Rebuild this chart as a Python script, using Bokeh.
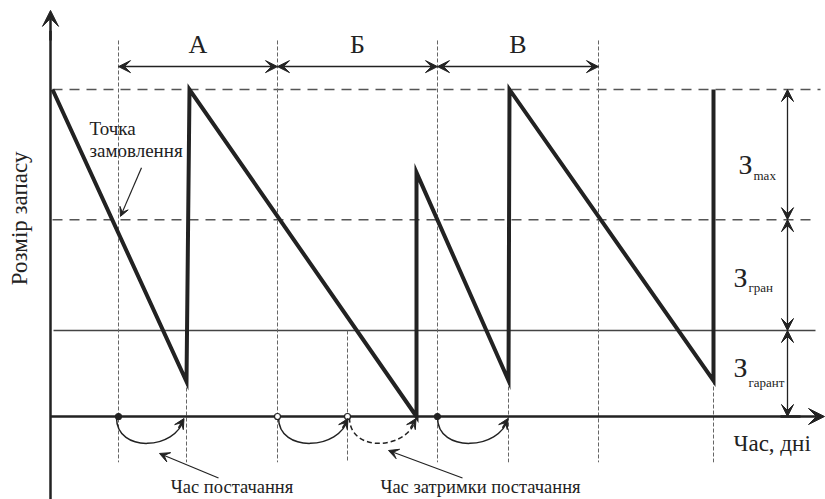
import math
from bokeh.plotting import figure
from bokeh.models import Range1d, Arrow, VeeHead, ColumnDataSource
from bokeh.core.properties import value
from bokeh.embed import file_html
from bokeh.resources import INLINE

# ---------------- data (time in days, stock in units) ----------------
max_stock = 100
reorder_level = 60.2
guarantee_level = 26.3

saw_t = [0.2, 13.6, 13.9, 36.6, 36.6, 45.8, 45.9, 66.3, 66.3]
saw_s = [100, 10.7, 100, 0, 74.6, 11, 100, 11, 100]

order_t = [6.8, 22.7, 38.7, 54.8]          # order points (А, Б, В bounds)
arrival_t = [13.6, 29.7, 45.8, 66.3]       # planned arrivals
arrival_s = [10.7, 26.3, 11, 11]

period_names = ["А", "Б", "В"]

lead_start = [6.6, 22.8, 29.9, 38.7]
lead_end = [13.3, 29.7, 36.5, 45.7]
lead_dash = ["solid", "solid", "dashed", "solid"]

zone_names = ["max", "гран", "гарант"]
zone_bounds = [max_stock, reorder_level, guarantee_level, 0]

marker_t = [6.8, 22.7, 29.7, 38.7]
marker_fill = ["#222222", "white", "white", "#222222"]

FONT = value("Liberation Serif")
INK = "#222222"
GREY = "#555555"

p = figure(width=825, height=499, x_range=Range1d(-5.0, 77.5), y_range=Range1d(-25.38, 127.22),
           output_backend="svg", toolbar_location=None, min_border=0)
p.axis.visible = False
p.grid.visible = False
p.outline_line_color = None
p.background_fill_color = "white"

# horizontal reference lines
p.line([0.2, 77], [max_stock, max_stock], line_color=GREY, line_width=1.5, line_dash="10 7")
p.line([0.2, 76], [reorder_level, reorder_level], line_color=GREY, line_width=1.5, line_dash="10 7")
p.line([0.3, 76.5], [guarantee_level, guarantee_level], line_color="#444444", line_width=1.3)

# vertical thin dashed lines
for t in order_t:
    p.line([t, t], [115, -14], line_color="#666666", line_width=1, line_dash="4 2")
for t, s in zip(arrival_t, arrival_s):
    p.line([t, t], [s, -14], line_color="#666666", line_width=1, line_dash="4 2")

# axes
p.line([0, 0], [-26, 118], line_color=INK, line_width=2.5)
p.add_layout(Arrow(end=VeeHead(size=16, fill_color=INK, line_color=INK), x_start=0, y_start=115,
                   x_end=0, y_end=124.2, line_color=INK, line_width=2.5))
p.line([0, 75], [0, 0], line_color=INK, line_width=2.5)
p.add_layout(Arrow(end=VeeHead(size=16, fill_color=INK, line_color=INK), x_start=73, y_start=0,
                   x_end=77.4, y_end=0, line_color=INK, line_width=2.5))

# sawtooth
p.line(saw_t, saw_s, line_color=INK, line_width=4, line_join="miter")

# period arrows
ps = ColumnDataSource(dict(x0=order_t[:-1], x1=order_t[1:], y=[107] * 3))
p.add_layout(Arrow(start=VeeHead(size=12, fill_color=INK, line_color=INK),
                   end=VeeHead(size=12, fill_color=INK, line_color=INK),
                   x_start="x0", y_start="y", x_end="x1", y_end="y", source=ps,
                   line_color=INK, line_width=1.5))
p.text(x=[(a + b) / 2 for a, b in zip(order_t[:-1], order_t[1:])], y=[113.8] * 3, text=period_names,
       text_font=FONT, text_font_size=value("26px"), text_align="center", text_baseline="middle",
       text_color=INK)

# zone arrows
zs = ColumnDataSource(dict(y0=zone_bounds[:-1], y1=zone_bounds[1:], x=[73.7] * 3))
p.add_layout(Arrow(start=VeeHead(size=12, fill_color=INK, line_color=INK),
                   end=VeeHead(size=12, fill_color=INK, line_color=INK),
                   x_start="x", y_start="y0", x_end="x", y_end="y1", source=zs,
                   line_color=INK, line_width=1.3))
z_y = [77.2, 42.4, 14.9]
sub_y = [73.7, 39.4, 10.4]
p.text(x=[68.8, 68.3, 68.3], y=z_y, text=["З"] * 3, text_font=FONT, text_font_size=value("28px"),
       text_align="left", text_baseline="middle", text_color=INK)
p.text(x=[70.3, 69.8, 69.8], y=sub_y, text=zone_names, text_font=FONT, text_font_size=value("13px"),
       text_align="left", text_baseline="middle", text_color=INK)

# lead-time arcs
for t0, t1, d in zip(lead_start, lead_end, lead_dash):
    p.bezier(x0=[t0], y0=[-0.3], x1=[t1], y1=[-0.9], cx0=[t0], cy0=[-11.5], cx1=[t1 - 0.7], cy1=[-10],
             line_color=INK, line_width=1.5, line_dash=("5 3" if d == "dashed" else "solid"))
    p.add_layout(Arrow(end=VeeHead(size=10, fill_color=INK, line_color=INK), x_start=t1 - 0.5,
                       y_start=-3.5, x_end=t1 + 0.05, y_end=-0.6, line_color=INK, line_width=1.5))

# markers on time axis
p.scatter(marker_t, [0] * 4, size=6, fill_color=marker_fill, line_color=INK, line_width=1.2)

# annotations
p.text(x=[3.9, 3.9], y=[88.1, 81.3], text=["Точка", "замовлення"], text_font=FONT,
       text_font_size=value("19px"), text_align="left", text_baseline="middle", text_color=INK)
p.add_layout(Arrow(end=VeeHead(size=9, fill_color=INK, line_color=INK), x_start=9.1, y_start=76.1,
                   x_end=7.0, y_end=61.2, line_color=INK, line_width=1.2))

p.text(x=[18.15, 43.0], y=[-21.6, -21.6], text=["Час постачання", "Час затримки постачання"],
       text_font=FONT, text_font_size=value("18.5px"), text_align="center", text_baseline="middle",
       text_color=INK)
p.add_layout(Arrow(end=VeeHead(size=10, fill_color=INK, line_color=INK), x_start=16.8, y_start=-18.8,
                   x_end=10.9, y_end=-11.3, line_color=INK, line_width=1.2))
p.add_layout(Arrow(end=VeeHead(size=10, fill_color=INK, line_color=INK), x_start=41.2, y_start=-18.8,
                   x_end=33.8, y_end=-10.4, line_color=INK, line_width=1.2))

p.text(x=[68.3], y=[-8.3], text=["Час, дні"], text_font=FONT, text_font_size=value("23px"),
       text_align="left", text_baseline="middle", text_color=INK)

p.text(x=[-3.1], y=[60.6], text=["Розмір запасу"], angle=math.pi / 2, text_font=FONT,
       text_font_size=value("23px"), text_align="center", text_baseline="middle", text_color=INK)

open("out.html", "w").write(file_html(p, INLINE))
